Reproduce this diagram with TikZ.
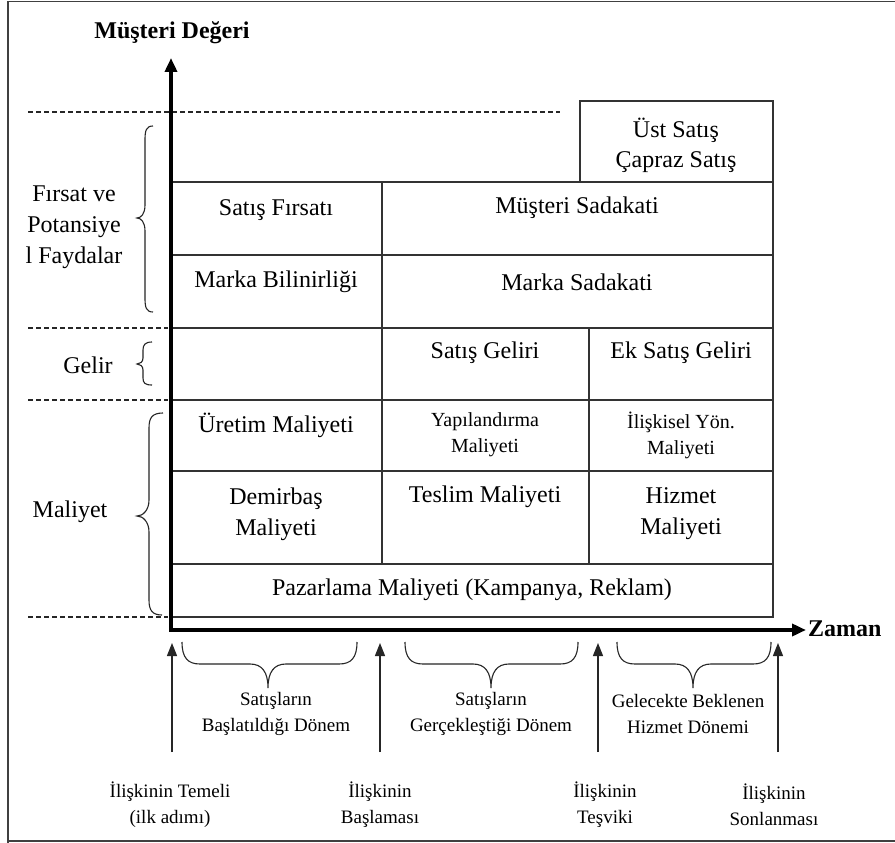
\documentclass[tikz,border=0pt]{standalone}
\usepackage{fontspec}
\setmainfont{Liberation Serif}
\usetikzlibrary{arrows.meta}

\tikzset{
  frameline/.style={draw=black!75, line width=1.6pt},
  cellline/.style={draw=black!80, line width=1.3pt},
  axisline/.style={line width=4.4pt, line join=miter,
    {Triangle[length=14pt,width=12pt]}-{Triangle[length=14pt,width=12pt]}},
  guide/.style={draw=black!85, line width=1.2pt, dash pattern=on 5pt off 3pt},
  bracepath/.style={draw=black!85, line width=1.1pt},
  uparrow/.style={draw=black!85, line width=1.3pt, -{Triangle[length=13pt,width=10pt]}},
  big/.style={font=\fontsize{24}{31}\selectfont, align=center, inner sep=0pt},
  bigbold/.style={font=\bfseries\fontsize{24}{30}\selectfont, inner sep=0pt},
  small/.style={font=\fontsize{20}{26}\selectfont, align=center, inner sep=0pt},
  note/.style={font=\fontsize{19}{26}\selectfont, align=center, inner sep=0pt},
}

% downward curly brace: left end, right end, middle point
\newcommand\dnbrace[3]{%
  \draw[bracepath] (#1,642) .. controls (#1,658) and ({#1+6},664) .. ({#1+18},664)
    -- ({#3-18},664) .. controls ({#3-6},664) and (#3,672) .. (#3,688)
    .. controls (#3,672) and ({#3+6},664) .. ({#3+18},664)
    -- ({#2-18},664) .. controls ({#2-6},664) and (#2,658) .. (#2,642);}

\begin{document}
\begin{tikzpicture}[x=1pt, y=-1pt]
\useasboundingbox (0,0) rectangle (895,843);
\fill[white] (0,0) rectangle (895,843);

% outer frame
\draw[frameline] (8,843) -- (8,1.5) -- (895,1.5);
\draw[frameline] (8,841) -- (895,841);

% band separators
\draw[guide] (28,112) -- (560,112);
\draw[guide] (28,328) -- (168,328);
\draw[guide] (28,400) -- (168,400);
\draw[guide] (28,617) -- (168,617);

% grid of cells
\draw[cellline] (580,101) rectangle (773,182);
\draw[cellline] (171,182) rectangle (773,617);
\foreach \yy in {255,328,400,471,564}
  \draw[cellline] (171,\yy) -- (773,\yy);
\draw[cellline] (382,182) -- (382,564);
\draw[cellline] (589,328) -- (589,564);

% axes
\draw[axisline] (171,58) -- (171,630) -- (806,630);
\node[bigbold] (yaxis) at (172,33) {Müşteri Değeri};
\node[bigbold, anchor=west] (xaxis) at (808,629) {Zaman};

% cell texts
\node[big] (ust)   at (676,145) {Üst Satış\\[-1pt]Çapraz Satış};
\node[big] (sf)    at (276,210) {Satış Fırsatı};
\node[big] (ms)    at (577,208) {Müşteri Sadakati};
\node[big] (mb)    at (276,282) {Marka Bilinirliği};
\node[big] (mks)   at (577,282) {Marka Sadakati};
\node[big] (sg)    at (485,353) {Satış Geliri};
\node[big] (esg)   at (681,353) {Ek Satış Geliri};
\node[big] (um)    at (276,425) {Üretim Maliyeti};
\node[small] (ym)  at (485,435) {Yapılandırma\\Maliyeti};
\node[small] (iym) at (681,435) {İlişkisel Yön.\\Maliyeti};
\node[big] (dm)    at (276,514) {Demirbaş\\Maliyeti};
\node[big] (tm)    at (485,497) {Teslim Maliyeti};
\node[big] (hm)    at (681,514) {Hizmet\\Maliyeti};
\node[big] (pm)    at (472,590) {Pazarlama Maliyeti (Kampanya, Reklam)};

% band labels with braces
\node[big] (firsat)  at (74,227) {Fırsat ve\\Potansiye\\l Faydalar};
\node[big] (gelir)   at (88,365) {Gelir};
\node[big] (maliyet) at (70,512) {Maliyet};

\draw[bracepath] (153,126) .. controls (146,126) and (145,131) .. (145,140)
  -- (145,205) .. controls (145,214) and (141,218) .. (137,218)
  .. controls (141,218) and (145,222) .. (145,231)
  -- (145,298) .. controls (145,307) and (146,312) .. (153,312);
\draw[bracepath] (152,342) .. controls (145,342) and (143,345) .. (143,350)
  -- (143,358) .. controls (143,362) and (140,364) .. (137,364)
  .. controls (140,364) and (143,366) .. (143,370)
  -- (143,378) .. controls (143,383) and (145,385) .. (152,385);
\draw[bracepath] (163,413) .. controls (152,413) and (149,418) .. (149,428)
  -- (149,500) .. controls (149,510) and (143,516) .. (137,516)
  .. controls (143,516) and (149,522) .. (149,532)
  -- (149,600) .. controls (149,610) and (152,615) .. (162,615);

% periods under the time axis
\dnbrace{182}{357}{268}
\dnbrace{405}{578}{491}
\dnbrace{617}{771}{693}
\node[note] (p1) at (276,714) {Satışların\\Başlatıldığı Dönem};
\node[note] (p2) at (491,714) {Satışların\\Gerçekleştiği Dönem};
\node[note] (p3) at (688,714) {Gelecekte Beklenen\\Hizmet Dönemi};

% relationship milestones
\node[note] (m1) at (170,805) {İlişkinin Temeli\\(ilk adımı)};
\node[note] (m2) at (380,805) {İlişkinin\\Başlaması};
\node[note] (m3) at (605,805) {İlişkinin\\Teşviki};
\node[note] (m4) at (774,805) {İlişkinin\\Sonlanması};

\coordinate (a1s) at (172,752); \coordinate (a1e) at (172,643);
\coordinate (a2s) at (380,752); \coordinate (a2e) at (380,643);
\coordinate (a3s) at (598,752); \coordinate (a3e) at (598,643);
\coordinate (a4s) at (778,752); \coordinate (a4e) at (778,643);
\draw[uparrow] (a1s) -- (a1e);
\draw[uparrow] (a2s) -- (a2e);
\draw[uparrow] (a3s) -- (a3e);
\draw[uparrow] (a4s) -- (a4e);
\end{tikzpicture}
\end{document}
